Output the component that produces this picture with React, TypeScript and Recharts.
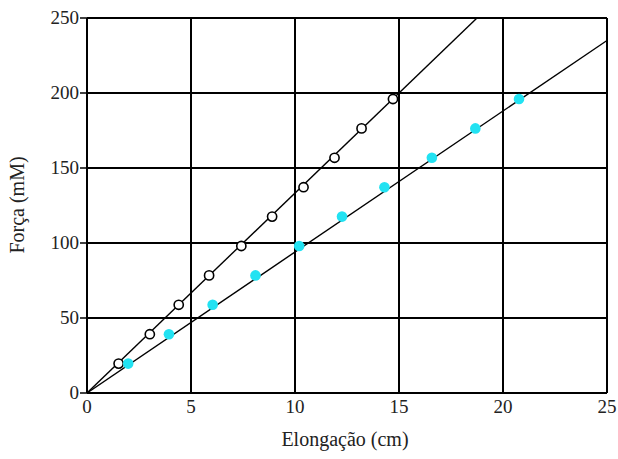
import React from 'react'
import { ComposedChart, Scatter, XAxis, YAxis, CartesianGrid, Label } from 'recharts'

// open circles (black)
const elongA = [1.52, 3.02, 4.41, 5.87, 7.42, 8.9, 10.41, 11.9, 13.2, 14.71]
const forceA = [19.6, 39.2, 58.8, 78.4, 98, 117.6, 137.2, 156.8, 176.4, 196]

// filled circles (cyan)
const elongB = [1.98, 3.94, 6.04, 8.1, 10.2, 12.26, 14.3, 16.58, 18.67, 20.77]
const forceB = [19.6, 39.2, 58.8, 78.4, 98, 117.6, 137.2, 156.8, 176.4, 196]

// fitted lines, end points
const fitA = [{ x: 0, y: 0 }, { x: 18.75, y: 250 }]
const fitB = [{ x: 0, y: 0 }, { x: 25, y: 235 }]

const xTicks = [0, 5, 10, 15, 20, 25]
const yTicks = [0, 50, 100, 150, 200, 250]

const FONT = '"Liberation Serif", "DejaVu Serif", serif'
const CYAN = '#22e2f2'

const ptsA = elongA.map((x, i) => ({ x, y: forceA[i] }))
const ptsB = elongB.map((x, i) => ({ x, y: forceB[i] }))

const OpenDot = (p: any) => (
  <circle cx={p.cx} cy={p.cy} r={4.6} fill="#fff" stroke="#000" strokeWidth={1.6} />
)
const FilledDot = (p: any) => <circle cx={p.cx} cy={p.cy} r={5.3} fill={CYAN} />
const NoDot = () => <g />

const XTick = (p: any) => (
  <text x={p.x} y={p.y + 14} textAnchor="middle" fontSize={19} fontFamily={FONT} fill="#222">
    {p.payload.value}
  </text>
)
const YTick = (p: any) => (
  <text x={p.x} y={p.y + 6} textAnchor="end" fontSize={19} fontFamily={FONT} fill="#222">
    {p.payload.value}
  </text>
)

export default function App() {
  return (
    <div style={{ position: 'absolute', left: 0, top: 0, background: '#fff' }}>
      <ComposedChart
        width={618}
        height={459}
        margin={{ top: 18, right: 11, left: 27, bottom: 26 }}
      >
        <CartesianGrid stroke="#000" strokeWidth={2} />
        <XAxis
          type="number"
          dataKey="x"
          domain={[0, 25]}
          ticks={xTicks}
          height={40}
          axisLine={{ stroke: '#000', strokeWidth: 2 }}
          tickLine={false}
          tickMargin={0}
          tick={<XTick />}
          allowDataOverflow
        >
          <Label
            content={() => (
              <text x={345} y={446} textAnchor="middle" fontSize={20} fontFamily={FONT} fill="#222">
                Elongação (cm)
              </text>
            )}
          />
        </XAxis>
        <YAxis
          type="number"
          dataKey="y"
          domain={[0, 250]}
          ticks={yTicks}
          width={60}
          axisLine={{ stroke: '#000', strokeWidth: 2 }}
          tickLine={{ stroke: '#000', strokeWidth: 1.5 }}
          tickSize={7}
          tickMargin={1}
          tick={<YTick />}
          allowDataOverflow
        >
          <Label
            content={() => (
              <text
                x={24}
                y={205}
                transform="rotate(-90 24 205)"
                textAnchor="middle"
                fontSize={20}
                fontFamily={FONT}
                fill="#222"
              >
                Força (mM)
              </text>
            )}
          />
        </YAxis>
        <Scatter data={fitA} line={{ stroke: '#000', strokeWidth: 1.4 }} shape={NoDot} isAnimationActive={false} />
        <Scatter data={fitB} line={{ stroke: '#000', strokeWidth: 1.4 }} shape={NoDot} isAnimationActive={false} />
        <Scatter data={ptsA} shape={OpenDot} isAnimationActive={false} />
        <Scatter data={ptsB} shape={FilledDot} isAnimationActive={false} />
      </ComposedChart>
    </div>
  )
}
